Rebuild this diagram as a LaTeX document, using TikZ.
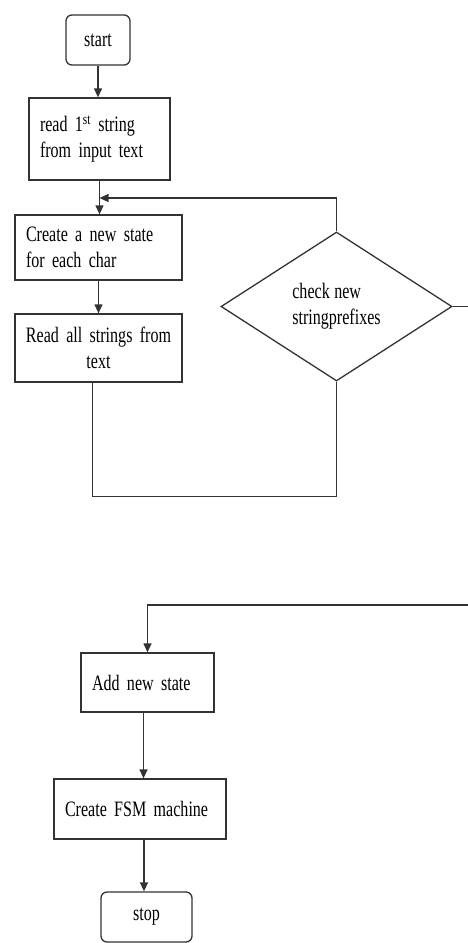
\documentclass[tikz,border=0pt]{standalone}
\usepackage{fontspec}
\setmainfont{Liberation Serif}[FakeStretch=0.73]
\usetikzlibrary{shapes.geometric,arrows.meta}

\newcommand\flowfont{\fontsize{22}{26}\selectfont\spaceskip=4.5pt plus 1pt\relax\hyphenpenalty=10000\relax}

\begin{document}
\begin{tikzpicture}[x=1pt, y=-1pt, >={Triangle[length=9pt,width=8pt]},
    every node/.style={font=\flowfont},
    line/.style={draw=black!80, line width=1.3pt}]

    \tikzset{%
    terminal/.style={
        rectangle,
        rounded corners=6pt,
        draw=black!80,
        line width=1.3pt,
        minimum width=64pt,
        minimum height=50pt
        },
    process/.style={
        rectangle,
        draw=black!80,
        line width=1.3pt,
        inner xsep=11pt,
        align=left
        },
    decision/.style={
        diamond,
        draw=black!80,
        line width=1.3pt,
        inner sep=0pt,
        minimum width=231pt,
        minimum height=149pt,
        align=left
        },
    }

    \useasboundingbox (0,0) rectangle (468,943);

    % Start and first blocks
    \node [terminal] (start) at (98,40) {start};
    \node [process, text width=119pt, minimum height=82pt] (read) at (99.5,139)
        {read 1\textsuperscript{st} string\\from input text};
    \node [process, text width=145pt, minimum height=65pt] (create) at (98.5,247.5)
        {Create a new state\\for each char};
    \node [process, text width=159pt, inner xsep=4pt, minimum height=68pt, align=center] (readall) at (98.5,348)
        {Read all strings from\\text};

    % Decision
    \node [decision] (check) at (336.5,306.5) {check new\\stringprefixes};

    % Lower blocks
    \node [process, text width=111pt, minimum height=59pt] (add) at (147.5,682.5) {Add new state};
    \node [process, text width=150pt, minimum height=60pt] (fsm) at (140,809) {Create FSM machine};
    \node [terminal, minimum width=91pt] (stop) at (146.5,917) {stop};

    % Turning points
    \coordinate (merge) at (99.5,198);
    \coordinate (turn) at (471,605);

    % Connectors
    \draw [line,->] (start.south) -- (start.south |- read.north);
    \draw [line,->] (read.south) -- (read.south |- create.north);
    \draw [line,->] (check.north) |- (merge);
    \draw [line,->] (create) -- (readall);
    \draw [line] ([xshift=-6pt]readall.south) -- ++(0,114) -| (check.south);
    \draw [line,->] (check.east) -| (turn) -| (add.north);
    \draw [line,->] ([xshift=-4pt]add.south) -- ([xshift=-4pt]add.south |- fsm.north);
    \draw [line,->] ([xshift=4pt]fsm.south) -- ([xshift=4pt]fsm.south |- stop.north);

\end{tikzpicture}
\end{document}
